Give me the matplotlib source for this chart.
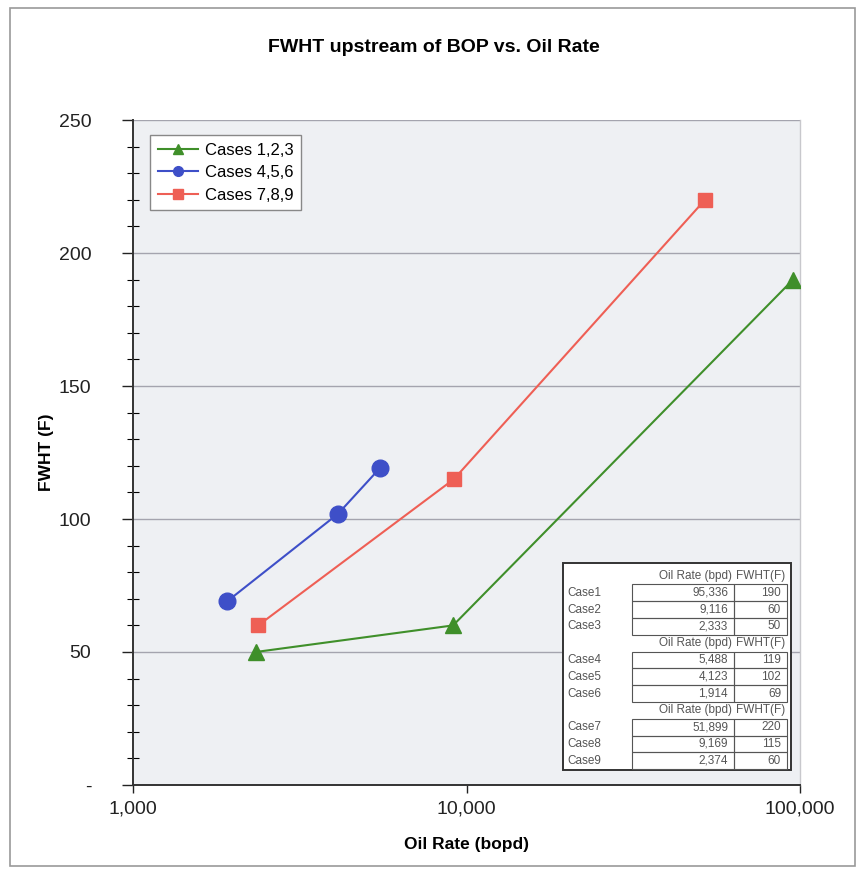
import matplotlib
matplotlib.use("Agg")
import matplotlib.pyplot as plt
from matplotlib.lines import Line2D
from matplotlib.patches import Rectangle
from matplotlib.ticker import FixedLocator, MultipleLocator

plt.rcParams['font.family'] = ['Liberation Sans', 'DejaVu Sans']

cases_123_rate = [95336, 9116, 2333]
cases_123_fwht = [190, 60, 50]
cases_456_rate = [5488, 4123, 1914]
cases_456_fwht = [119, 102, 69]
cases_789_rate = [51899, 9169, 2374]
cases_789_fwht = [220, 115, 60]

case_names = ["Case1", "Case2", "Case3", "Case4", "Case5", "Case6",
              "Case7", "Case8", "Case9"]
table_rates = ["95,336", "9,116", "2,333", "5,488", "4,123", "1,914",
               "51,899", "9,169", "2,374"]
table_fwht = ["190", "60", "50", "119", "102", "69", "220", "115", "60"]

x_ticks = [1000, 10000, 100000]
x_tick_labels = ["1,000", "10,000", "100,000"]
y_ticks = [0, 50, 100, 150, 200, 250]
y_tick_labels = ["-", "50", "100", "150", "200", "250"]

green = "#3f8f2a"
blue = "#3e4fc8"
red = "#ee5f55"

fig = plt.figure(figsize=(8.63, 8.73), dpi=100)
fig.patches.append(Rectangle((10 / 863, 7 / 873), 845 / 863, 858 / 873,
                             transform=fig.transFigure, fill=False,
                             edgecolor="#9a9a9a", linewidth=1.2))

ax = fig.add_axes([133 / 863, 1 - 785 / 873, 667 / 863, 665 / 873])
ax.set_facecolor("#eef0f3")

ax.plot(cases_123_rate, cases_123_fwht, color=green, marker="^", markersize=11,
        linewidth=1.5, label="Cases 1,2,3", zorder=3)
ax.plot(cases_456_rate, cases_456_fwht, color=blue, marker="o", markersize=12,
        linewidth=1.5, label="Cases 4,5,6", zorder=3)
ax.plot(cases_789_rate, cases_789_fwht, color=red, marker="s", markersize=10,
        linewidth=1.5, label="Cases 7,8,9", zorder=3)

ax.set_xscale("log")
ax.set_xlim(1000, 100000)
ax.set_ylim(0, 250)
ax.xaxis.set_major_locator(FixedLocator(x_ticks))
ax.set_xticklabels(x_tick_labels)
ax.xaxis.set_minor_locator(FixedLocator([]))
ax.set_yticks(y_ticks)
ax.set_yticklabels(y_tick_labels)
ax.yaxis.set_minor_locator(MultipleLocator(10))

ax.grid(axis="y", which="major", color="#a4a4ae", linewidth=1.0)
ax.set_axisbelow(True)

ax.tick_params(axis="both", which="major", labelsize=14, colors="#222222",
               length=8, width=1.0)
ax.tick_params(axis="y", which="major", direction="out", pad=22)
ax.tick_params(axis="y", which="minor", direction="inout", length=8, width=0.8)
ax.tick_params(axis="x", which="major", direction="out", length=6, pad=5)
for side in ["left", "bottom"]:
    ax.spines[side].set_color("#333333")
    ax.spines[side].set_linewidth(1.4)
ax.spines["top"].set_visible(False)
ax.spines["right"].set_color("#c8c8cc")
ax.spines["right"].set_linewidth(1.0)

ax.set_xlabel("Oil Rate (bopd)", fontsize=12.5, fontweight="bold", labelpad=14)
ax.set_ylabel("FWHT (F)", fontsize=12.5, fontweight="bold")
ax.yaxis.set_label_coords(-0.118, 0.5)
fig.text(0.5025, 1 - 47 / 873, "FWHT upstream of BOP vs. Oil Rate",
         ha="center", va="center", fontsize=14, fontweight="bold")

handles = [Line2D([], [], color=green, marker="^", markersize=7, linewidth=1.5),
           Line2D([], [], color=blue, marker="o", markersize=7, linewidth=1.5),
           Line2D([], [], color=red, marker="s", markersize=7, linewidth=1.5)]
leg = ax.legend(handles, ["Cases 1,2,3", "Cases 4,5,6", "Cases 7,8,9"],
                loc="upper left", bbox_to_anchor=(0.026, 0.977),
                borderaxespad=0, fontsize=12,
                frameon=True, fancybox=False, framealpha=1, edgecolor="#888888",
                handlelength=2.4, handletextpad=0.4, borderpad=0.45,
                labelspacing=0.45)
leg.get_frame().set_linewidth(1.0)

# data table drawn in its own little axes (pixel-like units, y down)
tab = fig.add_axes([562 / 863, 1 - 771 / 873, 230 / 863, 209 / 873])
tab.set_xlim(0, 230)
tab.set_ylim(209, 0)
tab.axis("off")
tab.add_patch(Rectangle((1, 1), 228, 207, facecolor="white",
                        edgecolor="#333333", linewidth=1.4))
row_h = 16.8
col1_l, col1_r, col2_r = 70, 172, 225
txt_col = "#555555"
for g in range(3):
    head_y = 14 + g * 4 * row_h
    tab.text(col1_r - 2, head_y, "Oil Rate (bpd)", ha="right", va="center",
             fontsize=8.5, color=txt_col)
    tab.text(col2_r - 2, head_y, "FWHT(F)", ha="right", va="center",
             fontsize=8.5, color=txt_col)
    for r in range(3):
        i = g * 3 + r
        yc = head_y + (r + 1) * row_h
        tab.add_patch(Rectangle((col1_l, yc - row_h / 2), col1_r - col1_l, row_h,
                                fill=False, edgecolor="#555555", linewidth=0.8))
        tab.add_patch(Rectangle((col1_r, yc - row_h / 2), col2_r - col1_r, row_h,
                                fill=False, edgecolor="#555555", linewidth=0.8))
        tab.text(5, yc, case_names[i], ha="left", va="center", fontsize=8.5,
                 color=txt_col)
        tab.text(col1_r - 6, yc, table_rates[i], ha="right", va="center",
                 fontsize=8.5, color=txt_col)
        tab.text(col2_r - 6, yc, table_fwht[i], ha="right", va="center",
                 fontsize=8.5, color=txt_col)

plt.savefig("out.png", dpi=100)
plt.close(fig)
